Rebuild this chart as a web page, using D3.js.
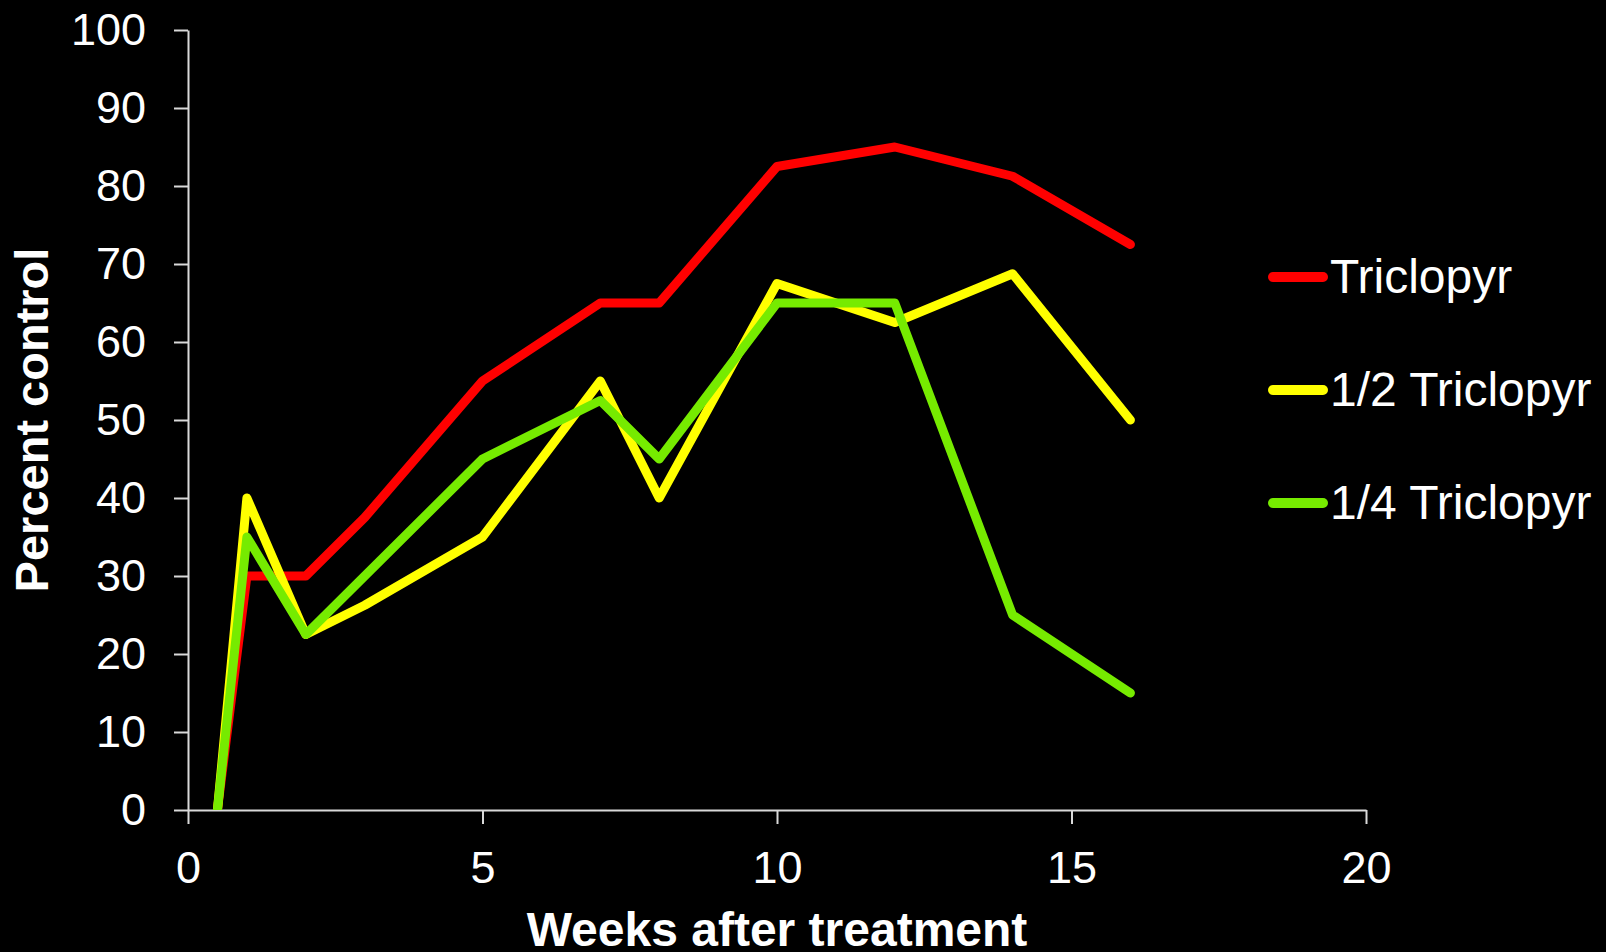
<html>
<head>
<meta charset="utf-8">
<title>Percent control</title>
<style>
  body { margin: 0; background: #000; }
  svg { display: block; }
  text { font-family: "Liberation Sans", Arial, sans-serif; fill: #fff; }
</style>
</head>
<body>
<svg width="1606" height="952"></svg>
<script src="https://d3js.org/d3.v7.min.js"></script>
<script>

var weeks = [0.5, 1, 2, 3, 5, 7, 8, 10, 12, 14, 16];
var triclopyr = [0, 30, 30, 37.5, 55, 65, 65, 82.5, 85, 81.25, 72.5];
var halfTriclopyr = [0, 40, 22.5, 26.25, 35, 55, 40, 67.5, 62.5, 68.75, 50];
var quarterTriclopyr = [0, 35, 22.5, 30, 45, 52.5, 45, 65, 65, 25, 15];
var seriesNames = ["Triclopyr", "1/2 Triclopyr", "1/4 Triclopyr"];
var seriesColors = ["#ff0000", "#ffff00", "#76eb00"];
var xTicks = [0, 5, 10, 15, 20];
var yTicks = [0, 10, 20, 30, 40, 50, 60, 70, 80, 90, 100];

var svg = d3.select('svg');
var plotLeft = 188, plotRight = 1366, plotTop = 30, plotBottom = 810;

var x = d3.scaleLinear().domain([0, 20]).range([plotLeft, plotRight]);
var y = d3.scaleLinear().domain([0, 100]).range([plotBottom, plotTop]);

// axes
var yAxis = svg.append('g')
  .attr('transform', 'translate(' + plotLeft + ',0)')
  .call(d3.axisLeft(y).tickValues(yTicks).tickSize(14).tickSizeOuter(0).tickPadding(28));
var xAxis = svg.append('g')
  .attr('transform', 'translate(0,' + plotBottom + ')')
  .call(d3.axisBottom(x).tickValues(xTicks).tickSize(14).tickSizeOuter(0).tickPadding(27));

[xAxis, yAxis].forEach(function(a){
  a.selectAll('path, line').attr('stroke', '#d9d9d9').attr('stroke-width', 2);
  a.selectAll('text')
    .attr('fill', '#fff')
    .style('font-family', '"Liberation Sans", Arial, sans-serif')
    .style('font-size', '45px');
});

svg.append('defs').append('clipPath').attr('id', 'plot')
  .append('rect').attr('x', plotLeft).attr('y', 0).attr('width', plotRight - plotLeft + 20).attr('height', plotBottom);

var series = [triclopyr, halfTriclopyr, quarterTriclopyr];
var line = d3.line()
  .x(function(d, i){ return x(weeks[i]); })
  .y(function(d){ return y(d); });

// draw lines; last one on top like the original
series.forEach(function(vals, k){
  svg.append('path')
    .attr('d', line(vals))
    .attr('clip-path', 'url(#plot)')
    .attr('fill', 'none')
    .attr('stroke', seriesColors[k])
    .attr('stroke-width', 9)
    .attr('stroke-linejoin', 'round')
    .attr('stroke-linecap', 'round');
});

// legend
var legendY = [277, 390, 503];
seriesNames.forEach(function(name, k){
  svg.append('line')
    .attr('x1', 1273).attr('x2', 1323)
    .attr('y1', legendY[k]).attr('y2', legendY[k])
    .attr('stroke', seriesColors[k])
    .attr('stroke-width', 10)
    .attr('stroke-linecap', 'round');
  svg.append('text')
    .attr('x', 1330).attr('y', legendY[k] + 16)
    .style('font-size', '48px')
    .text(name);
});

// axis titles
svg.append('text')
  .attr('x', (plotLeft + plotRight) / 2).attr('y', 946)
  .attr('text-anchor', 'middle')
  .style('font-size', '48px').style('font-weight', 'bold')
  .text('Weeks after treatment');

svg.append('text')
  .attr('transform', 'translate(48,' + ((plotTop + plotBottom) / 2) + ') rotate(-90)')
  .attr('text-anchor', 'middle')
  .style('font-size', '47px').style('font-weight', 'bold')
  .text('Percent control');

</script>
</body>
</html>
